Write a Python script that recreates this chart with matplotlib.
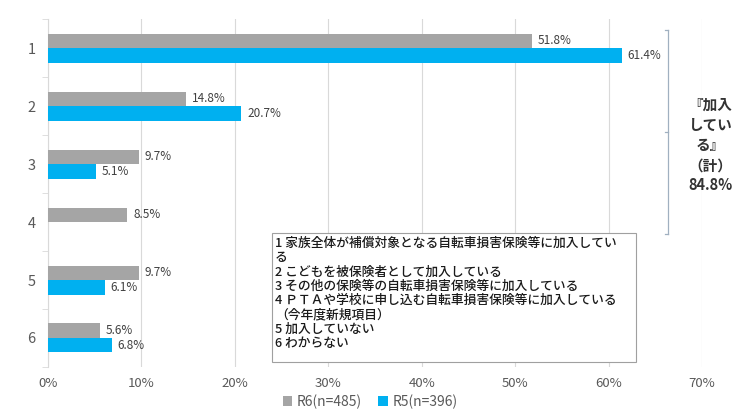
import numpy as np
import matplotlib.pyplot as plt
from matplotlib.patches import Rectangle

plt.rcParams['font.family'] = ['Noto Sans CJK JP', 'DejaVu Sans']

categories = ['1', '2', '3', '4', '5', '6']
r6 = [51.8, 14.8, 9.7, 8.5, 9.7, 5.6]
r5 = [61.4, 20.7, 5.1, None, 6.1, 6.8]
series_names = ['R6(n=485)', 'R5(n=396)']
xticks = [0, 10, 20, 30, 40, 50, 60, 70]
note_lines = [
    '1 家族全体が補償対象となる自転車損害保険等に加入してい',
    'る',
    '2 こどもを被保険者として加入している',
    '3 その他の保険等の自転車損害保険等に加入している',
    '4 ＰＴＡや学校に申し込む自転車損害保険等に加入している',
    '（今年度新規項目）',
    '5 加入していない',
    '6 わからない',
]
bracket_text = '『加入\nしてい\nる』\n（計）\n84.8%'

gray = '#A5A5A5'
blue = '#00B0F0'
txt = '#404040'

fig = plt.figure(figsize=(7.4, 4.17), dpi=100)
ax = fig.add_axes([0.0649, 0.120, 0.8837, 0.834])

y = np.arange(len(categories))
h = 0.25
r5_vals = [v if v is not None else 0 for v in r5]
ax.barh(y - h / 2, r6, height=h, color=gray, label=series_names[0], zorder=3)
ax.barh(y + h / 2, r5_vals, height=h, color=blue, label=series_names[1], zorder=3)

for i, v in enumerate(r6):
    ax.text(v + 0.6, y[i] - h / 2, f'{v:.1f}%', va='center', ha='left',
            fontsize=8.5, color=txt, zorder=4)
for i, v in enumerate(r5):
    if v is None:
        continue
    ax.text(v + 0.6, y[i] + h / 2, f'{v:.1f}%', va='center', ha='left',
            fontsize=8.5, color=txt, zorder=4)

ax.set_xlim(0, 70)
ax.set_ylim(len(categories) - 0.5, -0.5)
ax.set_xticks(xticks)
ax.set_xticklabels([f'{t}%' for t in xticks], fontsize=9.5, color='#595959')
ax.set_yticks(y)
ax.set_yticklabels(categories, fontsize=10.5, color='#595959')
ax.set_yticks(np.arange(-0.5, len(categories), 1.0), minor=True)
ax.tick_params(axis='y', which='major', length=0, pad=9)
ax.tick_params(axis='y', which='minor', length=4, color='#D9D9D9')
ax.tick_params(axis='x', length=0, pad=7)
ax.grid(axis='x', color='#D9D9D9', linewidth=0.8, zorder=0)
for s in ['top', 'right', 'bottom']:
    ax.spines[s].set_visible(False)
ax.spines['left'].set_color('#D9D9D9')

# note box
ax.add_patch(Rectangle((0.3425, 0.015), 0.557, 0.37, transform=ax.transAxes,
                       facecolor='white', edgecolor='#A0A0A0', linewidth=0.8,
                       zorder=5, clip_on=False))
ax.text(0.3470, 0.374, '\n'.join(note_lines), transform=ax.transAxes,
        ha='left', va='top', fontsize=9.2, fontweight='medium', color='#1a1a1a',
        linespacing=1.13, zorder=6)

# bracket for "加入している"
bx = 66.4
y0, y1 = -0.31, 3.21
ax.plot([bx, bx], [y0, y1], color='#A0B0C0', linewidth=0.9, clip_on=False, zorder=3)
for yy in [y0, (y0 + y1) / 2, y1]:
    ax.plot([bx - 0.4, bx], [yy, yy], color='#A0B0C0', linewidth=0.9,
            clip_on=False, zorder=3)
fig.text(0.960, 0.652, bracket_text, ha='center', va='center', fontsize=10.5,
         fontweight='bold', color='#333333', linespacing=1.32)

fig.legend(loc='center', bbox_to_anchor=(0.5, 0.037), ncol=2, frameon=False,
           fontsize=10, handlelength=0.7, handleheight=0.7, columnspacing=1.2,
           handletextpad=0.3, labelcolor='#595959')

fig.savefig('out.png', dpi=100)
